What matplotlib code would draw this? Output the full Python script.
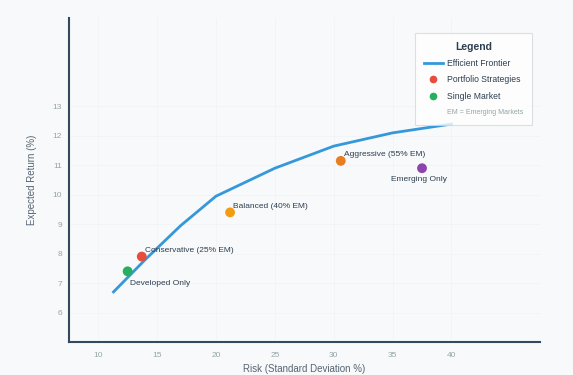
import matplotlib
matplotlib.use("Agg")
import matplotlib.pyplot as plt
from matplotlib.lines import Line2D

plt.rcParams['font.family'] = ['Liberation Sans', 'DejaVu Sans']

# efficient frontier (risk %, return %)
frontier_risk = [11.3, 14.0, 17.0, 20.0, 25.0, 30.0, 35.0, 40.0]
frontier_ret = [6.7, 7.8, 8.95, 9.95, 10.9, 11.65, 12.1, 12.4]

# portfolios
names = ["Developed Only", "Conservative (25% EM)", "Balanced (40% EM)",
         "Aggressive (55% EM)", "Emerging Only"]
risk = [12.5, 13.7, 21.2, 30.6, 37.5]
ret = [7.4, 7.9, 9.4, 11.15, 10.9]
colors = ["#27ae60", "#e74c3c", "#f39c12", "#e67e22", "#8e44ad"]
# label offsets in points
offsets = [(2, -11), (2, 2), (2, 2), (2, 2), (-2, -11)]
aligns = ["left", "left", "left", "left", "center"]

bg = "#f8f9fa"
fig = plt.figure(figsize=(5.73, 3.75), dpi=100, facecolor=bg)
ax = fig.add_axes([0.120, 0.088, 0.822, 0.864], facecolor=bg)

ax.plot(frontier_risk, frontier_ret, color="#3498db", lw=2.0, zorder=2)
ax.scatter(risk, ret, c=colors, s=50, zorder=3, edgecolors="none")
for n, x, y, off, ha in zip(names, risk, ret, offsets, aligns):
    ax.annotate(n, (x, y), xytext=off, textcoords="offset points",
                fontsize=6, color="#2c3e50", ha=ha, va="bottom")

ax.set_xlim(7.5, 47.5)
ax.set_ylim(5, 16)
ax.set_xticks([10, 15, 20, 25, 30, 35, 40])
ax.set_yticks([6, 7, 8, 9, 10, 11, 12, 13])
ax.tick_params(axis="x", length=0, labelsize=6, colors="#95a5a6", pad=7)
ax.tick_params(axis="y", length=0, labelsize=6, colors="#95a5a6", pad=5)
ax.grid(True, color="#f0f2f4", lw=0.5)
ax.set_axisbelow(True)
for s in ["top", "right"]:
    ax.spines[s].set_visible(False)
for s in ["left", "bottom"]:
    ax.spines[s].set_color("#34495e")
    ax.spines[s].set_linewidth(1.5)

ax.set_xlabel("Risk (Standard Deviation %)", fontsize=7, color="#566573", labelpad=4)
ax.set_ylabel("Expected Return (%)", fontsize=7, color="#566573", labelpad=11)

handles = [
    Line2D([], [], color="#3498db", lw=2),
    Line2D([], [], marker="o", color="#e74c3c", ls="none", markersize=4.5),
    Line2D([], [], marker="o", color="#27ae60", ls="none", markersize=4.5),
    Line2D([], [], ls="none"),
]
labels = ["Efficient Frontier", "Portfolio Strategies", "Single Market",
          "EM = Emerging Markets"]
leg = fig.legend(handles, labels, title="Legend", loc="upper left",
                 bbox_to_anchor=(415 / 573, 1 - 33 / 375), fontsize=6.2,
                 title_fontproperties={"weight": "bold", "size": 7.5},
                 frameon=True, facecolor="white", edgecolor="#d5d8dc",
                 fancybox=False, handlelength=2.2, borderpad=1.0,
                 labelspacing=0.85, handletextpad=0.5, borderaxespad=0)
leg.get_frame().set_linewidth(0.8)
leg.get_title().set_color("#2c3e50")
for t in leg.get_texts()[:3]:
    t.set_color("#2c3e50")
leg.get_texts()[3].set_color("#95a5a6")
leg.get_texts()[3].set_fontsize(5)

fig.savefig("out.png", dpi=100, facecolor=bg)
